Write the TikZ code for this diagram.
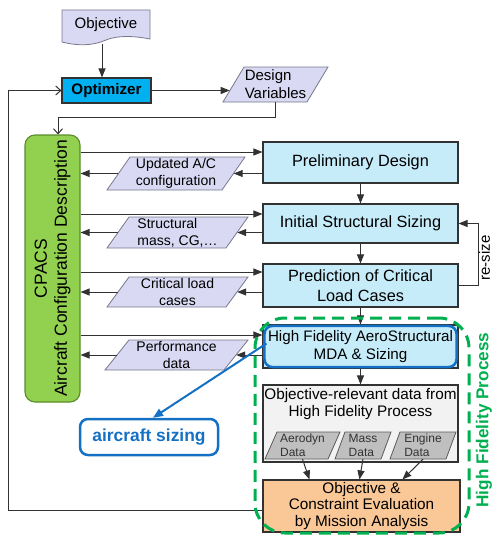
\documentclass[tikz,border=0pt]{standalone}
\usepackage{fontspec}
\setmainfont{Liberation Sans}
\usetikzlibrary{arrows.meta,calc}

\definecolor{lav}{RGB}{217,217,243}
\definecolor{lavb}{RGB}{120,120,140}
\definecolor{optblue}{RGB}{0,176,240}
\definecolor{lblue}{RGB}{198,236,249}
\definecolor{cgreen}{RGB}{146,208,80}
\definecolor{cgreenb}{RGB}{90,140,40}
\definecolor{lgray}{RGB}{242,242,242}
\definecolor{mgray}{RGB}{191,191,191}
\definecolor{orng}{RGB}{250,199,150}
\definecolor{sblue}{RGB}{20,112,196}
\definecolor{dgreen}{RGB}{0,176,80}
\definecolor{linec}{RGB}{50,50,50}

\newcommand\fs[2]{\fontsize{#1}{#2}\selectfont}

% name, cx, cy, half mid width, half height, half slant, shape style, node options, text
\newcommand\paranode[9]{%
  \draw[#7] (#2-#4-#6,#3+#5) -- (#2-#4+#6,#3-#5) -- (#2+#4+#6,#3-#5) -- (#2+#4-#6,#3+#5) -- cycle;
  \node[inner sep=0, minimum width=2*#4, minimum height=2*#5, align=center, #8] (#1) at (#2,#3) {#9};}

\begin{document}
\begin{tikzpicture}[x=1pt,y=-1pt,
  box/.style={draw=linec, line width=1.1pt, inner sep=0, align=center, minimum width=195},
  arr/.style={draw=linec, line width=1pt, -{Triangle[length=9pt,width=7pt]}},
  oarr/.style={draw=linec, line width=1pt, -{Straight Barb[length=5pt,width=9pt]}},
  para/.style={fill=lav, draw=lavb, line width=0.8pt},
  sub/.style={fill=mgray, draw=linec!80, line width=0.8pt},
  ptxt/.style={font=\fs{14}{17}},
  stxt/.style={font=\fs{12}{14}, align=left, text=black!80}]

\useasboundingbox (0,0) rectangle (492,535);

% Objective
\filldraw[fill=lav, draw=lavb, line width=0.8pt] (62,10) -- (150,10) -- (150,39)
  .. controls (135,36) and (118,35) .. (106,40)
  .. controls (92,46) and (78,46) .. (62,42) -- cycle;
\node[font=\fs{15}{18}] (obj) at (106,25) {Objective};

% Optimizer
\node[box, fill=optblue, minimum width=89, minimum height=25, font=\bfseries\fs{15.2}{18}] (opt) at (106.5,90.5) {Optimizer};
\coordinate (objb) at (102,44);
\draw[arr] (objb) -- (objb |- opt.north);

% Design variables
\paranode{dv}{275.5}{84.5}{42}{17.5}{10.5}{para}{ptxt, font=\fs{15}{18}, align=left}{Design\\Variables}
\draw[arr] (opt.east) -- ([xshift=-3.6pt]dv.west |- opt.east);

% CPACS
\node[draw=cgreenb, fill=cgreen, rounded corners=10pt, line width=1.1pt, minimum width=55, minimum height=267, inner sep=0] (cpacs) at (52.5,268.5) {};
\node[rotate=90, align=center, font=\fs{17.5}{20}] (cpacst) at (cpacs.center) {CPACS\\Aircraft Configuration Description};

\draw[oarr] (dv.south) -- ++(0,15) -| ([xshift=5.5pt]cpacs.north);

% Main boxes
\node[box, fill=lblue, minimum height=41, font=\fs{16.3}{19}] (pd) at (360.5,162.5) {Preliminary Design};
\node[box, fill=lblue, minimum height=39, font=\fs{16.3}{19}] (iss) at (360.5,223.5) {Initial Structural Sizing};
\node[box, fill=lblue, minimum height=43, font=\fs{16.3}{20}] (pcl) at (360.5,285.5) {Prediction of Critical\\Load Cases};
\node[box, fill=lblue, minimum height=43, font=\fs{15.2}{18}] (hf) at (360.5,346.5) {High Fidelity AeroStructural\\MDA \& Sizing};
\node[box, fill=lgray, minimum height=77] (ord) at (360.5,423.5) {};
\node[align=center, font=\fs{15.3}{17.5}] (ordt) at (360.5,404) {Objective-relevant data from\\High Fidelity Process};
\node[box, fill=orng, minimum width=197, minimum height=52, font=\fs{15.3}{16.8}] (oe) at (361.5,506) {Objective \&\\Constraint Evaluation\\by Mission Analysis};

\draw[arr] (pd.south) -- (iss.north);
\draw[arr] (iss.south) -- (pcl.north);
\draw[arr] (pcl.south) -- (hf.north);
\draw[arr] (hf.south) -- (ord.north);

% re-size loop
\draw[arr] (pcl.east) -- ++(20,0) |- (iss.east);
\node[rotate=90, font=\fs{15}{17}] (rs) at (484.5,258) {re-size};

% Row 1
\coordinate (r1) at ([yshift=10.5pt]pd.west);
\draw[arr] (cpacs.east |- r1) -- (r1);
\paranode{upd}{176}{173.5}{57.5}{16.5}{11.5}{para}{ptxt}{Updated A/C\\configuration}
\draw[arr] (pd.west |- upd) -- (upd);
\draw[arr] (upd) -- (cpacs.east |- upd);

% Row 2
\coordinate (r2) at ([yshift=9.5pt]iss.west);
\draw[arr] (cpacs.east |- r2) -- (r2);
\paranode{smc}{177.5}{232.5}{59.5}{15.5}{11}{para}{ptxt, align=left}{Structural\\mass, CG,…}
\draw[arr] (iss.west |- smc) -- (smc);
\draw[arr] (smc) -- (cpacs.east |- smc);

% Row 3
\coordinate (r3) at ([yshift=13.5pt]pcl.west);
\draw[arr] (cpacs.east |- r3) -- (r3);
\paranode{clc}{177.5}{292}{59.5}{15}{11}{para}{ptxt}{Critical load\\cases}
\draw[arr] (pcl.west |- clc) -- (clc);
\draw[arr] (clc) -- (cpacs.east |- clc);

% Row 4
\coordinate (r4) at ([yshift=11.5pt]hf.west);
\draw[arr] (cpacs.east |- r4) -- (r4);
\paranode{pfd}{176.5}{355}{59.5}{15}{12}{para}{ptxt}{Performance\\data}
\draw[arr] (hf.west |- pfd) -- (pfd);
\draw[arr] (pfd) -- (cpacs.east |- pfd);

% Sub data
\paranode{aer}{302.5}{445.5}{31.5}{13.5}{6}{sub}{stxt}{Aerodyn\\Data}
\paranode{mas}{363}{445.5}{23}{13.5}{5}{sub}{stxt}{Mass\\Data}
\paranode{eng}{423}{445.5}{28}{13.5}{5}{sub}{stxt}{Engine\\Data}
\draw[arr] (aer.south) -- ($(oe.north west)+(47,0)$);
\draw[arr] (mas.south) -- ($(oe.north west)+(97,0)$);
\draw[arr] (eng.south) -- ($(oe.north west)+(140,0)$);

% Feedback to optimizer
\draw[oarr] ([yshift=-4pt]oe.west) -- ++(-254,0) |- (opt.west);

% aircraft sizing highlight
\draw[sblue, line width=2.5pt, rounded corners=8pt] ([xshift=2pt,yshift=-1.5pt]hf.north west) rectangle ([xshift=-2pt,yshift=1.5pt]hf.south east);
\node[draw=sblue, line width=2.5pt, rounded corners=8pt, minimum width=138, minimum height=36, inner sep=0, text=sblue, font=\bfseries\fs{17.4}{20}] (acs) at (149,437) {aircraft sizing};
\draw[sblue, line width=2pt, -{Triangle[length=10pt,width=8pt]}] ([xshift=4pt,yshift=3pt]hf.west) -- ([xshift=4pt]acs.north);

% High fidelity process frame
\node[draw=dgreen, line width=3pt, dash pattern=on 12pt off 7pt, rounded corners=30pt, minimum width=214, minimum height=215, inner sep=0] (hfp) at (362,425.5) {};
\node[rotate=90, text=dgreen, font=\bfseries\fs{17.2}{20}] (hfpt) at (484,420) {High Fidelity Process};

\end{tikzpicture}
\end{document}
